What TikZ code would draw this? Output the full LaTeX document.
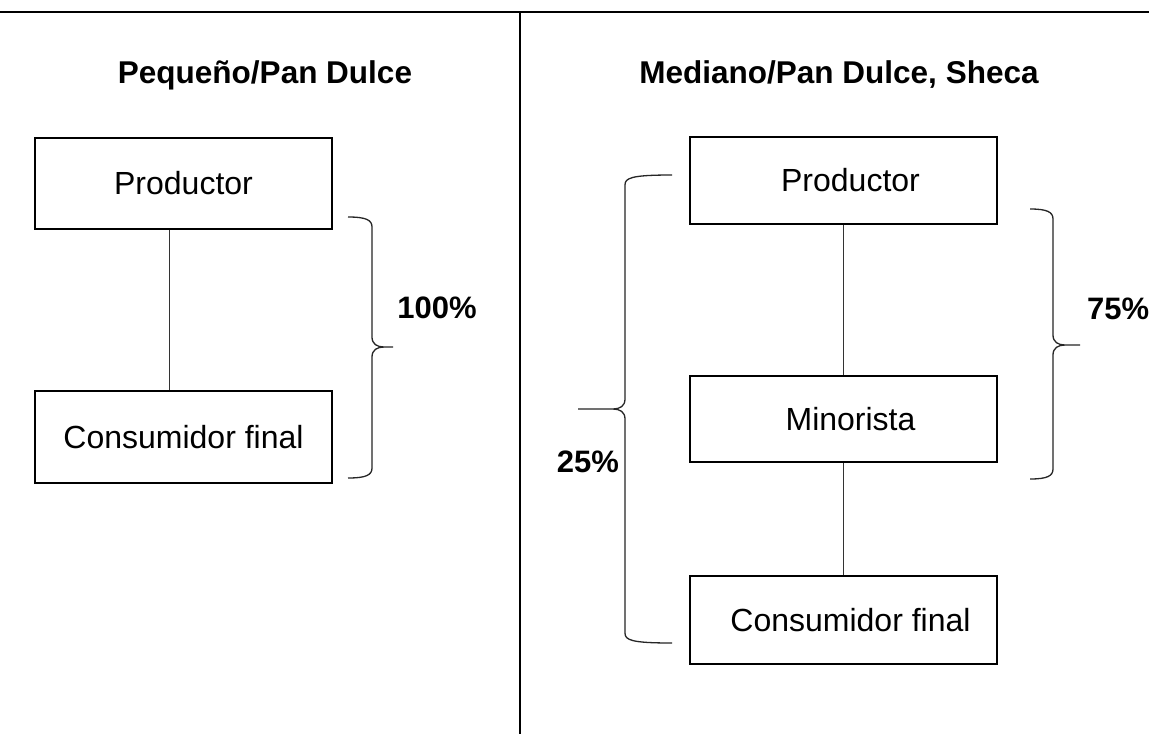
\documentclass[tikz,border=0pt]{standalone}
\usepackage{fontspec}
\setmainfont{Liberation Sans}
\newcommand\curlyb[7]{%
\draw[bracestyle] (#1,#4) .. controls ({#2-6*#7},#4) and (#2,{#4+3}) .. (#2,{#4+10})
 -- (#2,{#5-10}) .. controls (#2,{#5-3}) and ({#2+5*#7},#5) .. ({#2+12*#7},#5) -- (#3,#5)
 ({#2+12*#7},#5) .. controls ({#2+5*#7},#5) and (#2,{#5+3}) .. (#2,{#5+10})
 -- (#2,{#6-10}) .. controls (#2,{#6-3}) and ({#2-6*#7},#6) .. (#1,#6);}
\begin{document}
\begin{tikzpicture}[x=1pt,y=-1pt,
  box/.style={draw, line width=2pt, inner sep=0pt, minimum height=90pt,
    font=\fontsize{32}{38}\selectfont},
  ttl/.style={inner sep=0pt, font=\fontsize{31.5}{38}\selectfont\bfseries},
  pct/.style={inner sep=0pt, font=\fontsize{31}{37}\selectfont\bfseries},
  link/.style={line width=1pt, draw=black!80},
  bracestyle/.style={line width=1.3pt, draw=black!85, line join=round}]
\useasboundingbox (0,0) rectangle (1149,734);
\fill[white] (0,0) rectangle (1149,734);
% frame lines
\coordinate (tl) at (0,12);
\coordinate (tr) at (1149,12);
\coordinate (dtop) at (520,12);
\coordinate (dbot) at (520,734);
\draw[line width=1.5pt] (tl) -- (tr);
\draw[line width=2pt] (dtop) -- (dbot);
% titles
\node[ttl] (t1) at (265,75) {Pequeño/Pan Dulce};
\node[ttl] (t2) at (839,75) {Mediano/Pan Dulce, Sheca};
% left column
\node[box, minimum width=297pt, minimum height=91pt] (L1) at (183.5,183.5) {Productor};
\node[box, minimum width=297pt, minimum height=92pt] (L2) at (183.5,437) {Consumidor final};
\coordinate (lc) at (169,0);
\draw[link] (L1.south -| lc) -- (L2.north -| lc);
% right column
\node[box, minimum width=307pt, minimum height=87pt] (R1) at (843.5,180.5) {\hspace*{14pt}Productor};
\node[box, minimum width=307pt, minimum height=86pt] (R2) at (843.5,419) {\hspace*{14pt}Minorista};
\node[box, minimum width=307pt, minimum height=88pt] (R3) at (843.5,620) {\hspace*{14pt}Consumidor final};
\draw[link] (R1) -- (R2);
\draw[link] (R2) -- (R3);
% braces
\curlyb{348}{372}{393}{217}{347}{478}{1}
\curlyb{1030}{1053}{1080}{209}{345}{479}{1}
\curlyb{672}{625}{578}{175}{409}{643}{(-1)}
% percentages
\node[pct] (p100) at (437,308) {100\%};
\node[pct, anchor=west] (p75) at (1087,309) {75\%};
\node[pct] (p25) at (588,462) {25\%};
\end{tikzpicture}
\end{document}
